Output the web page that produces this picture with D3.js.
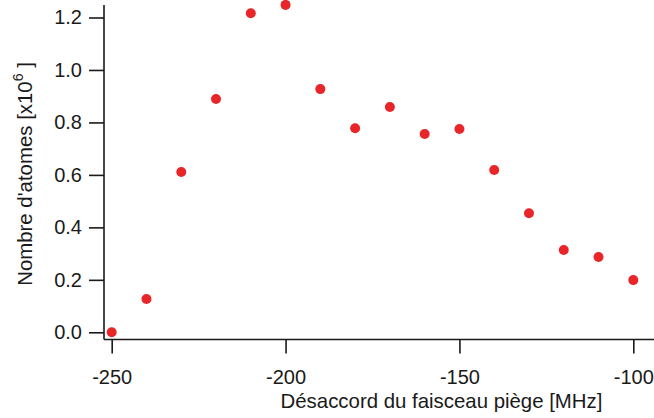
<!DOCTYPE html>
<html>
<head>
<meta charset="utf-8">
<script src="https://cdn.jsdelivr.net/npm/d3@7"></script>
<style>
  body { margin: 0; background: #fff; }
  svg { display: block; }
  text { font-family: "Liberation Sans", Arial, sans-serif; fill: #1a1a1a; }
</style>
</head>
<body>
<svg id="chart" width="654" height="418"></svg>
<script>
const detuning = [-250, -240, -230, -220, -210, -200, -190, -180, -170, -160, -150, -140, -130, -120, -110, -100];
const atoms = [0.0, 0.127, 0.611, 0.889, 1.216, 1.248, 0.927, 0.778, 0.859, 0.756, 0.775, 0.619, 0.454, 0.314, 0.287, 0.199];
const xTicks = [-250, -200, -150, -100];
const yTicks = [0.0, 0.2, 0.4, 0.6, 0.8, 1.0, 1.2];

const svg = d3.select("#chart");
const x = d3.scaleLinear().domain([-250, -100]).range([111.7, 633.3]);
const y = d3.scaleLinear().domain([0, 1.2]).range([332.3, 17.5]);

const axisX = 104, axisY = 339.5;

// axis lines
svg.append("line").attr("x1", axisX).attr("x2", 654).attr("y1", axisY).attr("y2", axisY)
  .attr("stroke", "#1a1a1a").attr("stroke-width", 1.6);
svg.append("line").attr("x1", axisX).attr("x2", axisX).attr("y1", 5).attr("y2", axisY)
  .attr("stroke", "#1a1a1a").attr("stroke-width", 1.6);

// x axis
const gx = svg.append("g").attr("transform", `translate(0,${axisY})`)
  .call(d3.axisBottom(x).tickValues(xTicks).tickFormat(d3.format("d")).tickSize(14).tickPadding(16));
gx.select(".domain").remove();
gx.selectAll(".tick line").attr("stroke", "#1a1a1a").attr("stroke-width", 1.6);
gx.selectAll(".tick text").attr("font-size", 20).attr("font-family", "Liberation Sans, Arial, sans-serif")
  .attr("fill", "#1a1a1a").text(d => String(d).replace("−", "-"));

// y axis
const gy = svg.append("g").attr("transform", `translate(${axisX},0)`)
  .call(d3.axisLeft(y).tickValues(yTicks).tickFormat(d3.format(".1f")).tickSize(15).tickPadding(7));
gy.select(".domain").remove();
gy.selectAll(".tick line").attr("stroke", "#1a1a1a").attr("stroke-width", 1.6);
gy.selectAll(".tick text").attr("font-size", 20).attr("font-family", "Liberation Sans, Arial, sans-serif")
  .attr("fill", "#1a1a1a");

// axis titles
svg.append("text").attr("x", 441.5).attr("y", 408).attr("text-anchor", "middle")
  .attr("font-size", 20.4).text("Désaccord du faisceau piège [MHz]");

const yl = svg.append("text").attr("transform", "translate(32,174) rotate(-90)")
  .attr("text-anchor", "middle").attr("font-size", 20.4);
yl.append("tspan").text("Nombre d'atomes [x10");
yl.append("tspan").attr("dy", -9).attr("font-size", 14).text("6");
yl.append("tspan").attr("dy", 9).text("  ]");

// points
svg.append("g").selectAll("circle").data(detuning).join("circle")
  .attr("cx", d => x(d)).attr("cy", (d, i) => y(atoms[i])).attr("r", 5)
  .attr("fill", "#e8262a");
</script>
</body>
</html>
